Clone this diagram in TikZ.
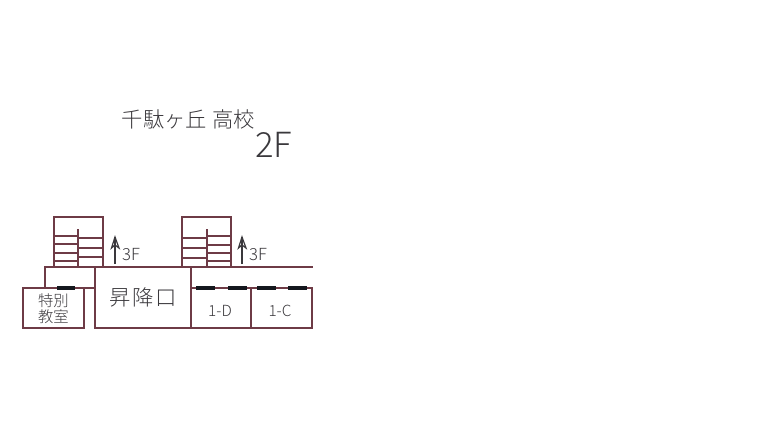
\documentclass[tikz,border=0pt]{standalone}
\usepackage{fontspec}
\newfontfamily\jpfont{Noto Sans CJK JP Light}
\newfontfamily\latinfont{Noto Sans CJK JP Light}
\definecolor{wall}{HTML}{6E3B46}
\definecolor{ink}{HTML}{3A383C}
\definecolor{door}{HTML}{14181E}
\tikzset{
  x=0.75pt,y=-0.75pt,
  wallline/.style={draw=wall,line width=2.1pt,line cap=rect},
  rung/.style={draw=wall,line width=2pt},
  doorline/.style={draw=door,line width=3.2pt},
  label/.style={text=ink,inner sep=0pt,font=\jpfont},
  arrowline/.style={draw=ink,line width=0.9pt},
}
\begin{document}
\begin{tikzpicture}
\useasboundingbox (0,0) rectangle (768,432);
% stairs left
\draw[wallline] (54,267) -- (54,217) -- (103,217) -- (103,267);
\draw[wallline] (78,230) -- (78,267);
\foreach \y in {236,244,253,261} \draw[rung] (54,\y) -- (78,\y);
\foreach \y in {238,248,257} \draw[rung] (78,\y) -- (103,\y);
% stairs right
\draw[wallline] (182,267) -- (182,217) -- (231,217) -- (231,267);
\draw[wallline] (207,230) -- (207,267);
\foreach \y in {238,248,258} \draw[rung] (182,\y) -- (207,\y);
\foreach \y in {236,245,253,261} \draw[rung] (207,\y) -- (231,\y);
% walls
\draw[wallline] (45,288) -- (45,267) -- (312,267);
\draw[wallline] (45,288) -- (95,288);
\draw[wallline] (23,288) rectangle (84,328);
\draw[wallline] (95,267) rectangle (191,328);
\draw[wallline] (191,288) -- (312,288) -- (312,328) -- (191,328);
\draw[wallline] (251,288) -- (251,328);
% doors
\draw[doorline] (57,288) -- (75,288);
\draw[doorline] (196,288) -- (215,288);
\draw[doorline] (228,288) -- (247,288);
\draw[doorline] (257,288) -- (276,288);
\draw[doorline] (288,288) -- (307,288);
% arrows
\coordinate (a1) at (115,264); \coordinate (a2) at (115,237);
\coordinate (b1) at (242,264); \coordinate (b2) at (242,237);
\draw[arrowline] (a1) -- (a2);
\draw[arrowline] (111.5,248) -- (a2) -- (119,248) -- (115,245) -- cycle;
\draw[arrowline] (b1) -- (b2);
\draw[arrowline] (238.5,248) -- (b2) -- (246,248) -- (242,245) -- cycle;
% labels
\node[label,font=\jpfont\fontsize{16pt}{16pt}\selectfont] (t1) at (188.5,119) {千駄ヶ丘\hspace{4pt}高校};
\node[label,font=\latinfont\fontsize{26pt}{26pt}\selectfont] (t2) at (273.5,145) {2F};
\node[label,font=\latinfont\fontsize{12.5pt}{12.5pt}\selectfont] (f1) at (131,255) {3F};
\node[label,font=\latinfont\fontsize{12.5pt}{12.5pt}\selectfont] (f2) at (258,255) {3F};
\node[label,font=\jpfont\fontsize{11.5pt}{11.5pt}\selectfont] (r1) at (53.5,301) {特別};
\node[label,font=\jpfont\fontsize{11.5pt}{11.5pt}\selectfont] (r2) at (53.5,317) {教室};
\node[label,font=\jpfont\fontsize{16pt}{16pt}\selectfont] (r3) at (143,297) {昇\hspace{1pt}降\hspace{1pt}口};
\node[label,font=\latinfont\fontsize{11.5pt}{11.5pt}\selectfont] (r4) at (220,311) {1-D};
\node[label,font=\latinfont\fontsize{11.5pt}{11.5pt}\selectfont] (r5) at (280,311) {1-C};
\end{tikzpicture}
\end{document}
